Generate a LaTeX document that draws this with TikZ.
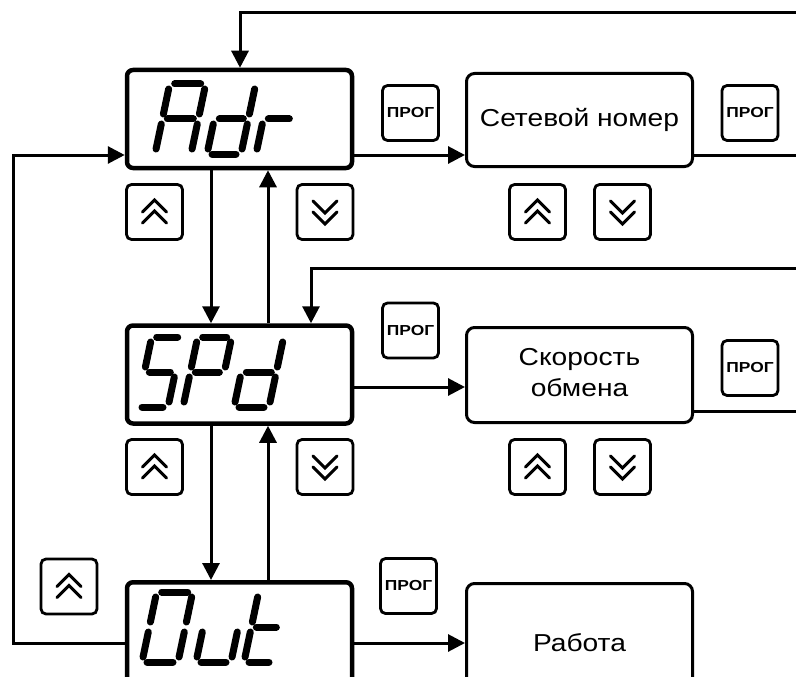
\documentclass[tikz,border=0pt]{standalone}
\usepackage{graphicx}
\usepackage{fontspec}
\setmainfont{Liberation Sans}
\usetikzlibrary{arrows.meta,calc}

\tikzset{
 disp/.style={draw, line width=4.5pt, rounded corners=6pt, minimum width=225pt, minimum height=98pt, inner sep=0pt},
 tbox/.style={draw, line width=3pt, rounded corners=8pt, minimum width=226pt, inner sep=0pt, font=\fontsize{24.5}{31}\selectfont},
 btn/.style={draw, line width=2.8pt, rounded corners=5pt, minimum width=56pt, minimum height=55pt, inner sep=0pt},
 prog/.style={btn, font=\fontsize{14.5}{16}\bfseries\selectfont},
 conn/.style={line width=3pt, -{Triangle[length=17pt,width=17pt]}},
 wire/.style={line width=3pt},
 chev/.style={line width=3pt, line cap=round},
 seg/.style={line width=7pt, line cap=round},
 chevup/.pic={\draw[chev] (-12,0) -- (0,-12) -- (12,0); \draw[chev] (-12,11) -- (0,-1) -- (12,11);},
 chevdown/.pic={\draw[chev] (-12,-11) -- (0,1) -- (12,-11); \draw[chev] (-12,0) -- (0,12) -- (12,0);},
}

\def\ssH{70}
\newcommand\ssga{\draw[seg] (5,-\ssH) -- (\ssW-5,-\ssH);}
\newcommand\ssgb{\draw[seg] (\ssW,-\ssH+5) -- (\ssW,-\ssH/2-5);}
\newcommand\ssgc{\draw[seg] (\ssW,-\ssH/2+5) -- (\ssW,-5);}
\newcommand\ssgd{\draw[seg] (5,0) -- (\ssW-5,0);}
\newcommand\ssge{\draw[seg] (0,-\ssH/2+5) -- (0,-5);}
\newcommand\ssgf{\draw[seg] (0,-\ssH+5) -- (0,-\ssH/2-5);}
\newcommand\ssgg{\draw[seg] (5,-\ssH/2) -- (\ssW-5,-\ssH/2);}
\newcommand\ssdigit[4]{%
 \begin{scope}[shift={(#1,#2)}, xslant=0.21]
  \def\ssW{#3}%
  \foreach \s in {#4}{\csname ssg\s\endcsname}
 \end{scope}}

\begin{document}
\begin{tikzpicture}[x=1pt,y=-1pt]
\useasboundingbox (0,0) rectangle (796,677);
\fill[white] (0,0) rectangle (796,677);
\clip (0,0) rectangle (796,677);

% displays
\node[disp] (adr) at (239.5,119) {};
\node[disp] (spd) at (239.5,374.5) {};
\node[disp, minimum height=121.5pt] (out) at (239.5,643) {};

% text boxes
\node[tbox, minimum height=93pt] (net) at (579.5,120) {\scalebox{1.15}[1]{Сетевой номер}};
\node[tbox, minimum height=95pt] (speed) at (579.5,375) {\scalebox{1.15}[1]{\begin{tabular}{@{}c@{}}Скорость\\обмена\end{tabular}}};
\node[tbox, minimum height=119pt] (work) at (579.5,643) {\scalebox{1.15}[1]{Работа}};

% PROG buttons
\node[prog] (p1) at (410.5,113) {\scalebox{1.2}[1]{ПРОГ}};
\node[prog] (p2) at (750,113) {\scalebox{1.2}[1]{ПРОГ}};
\node[prog] (p3) at (410.5,330.5) {\scalebox{1.2}[1]{ПРОГ}};
\node[prog] (p4) at (750,368) {\scalebox{1.2}[1]{ПРОГ}};
\node[prog] (p5) at (408.5,586) {\scalebox{1.2}[1]{ПРОГ}};

% arrow buttons
\node[btn] (u1) at (154.5,212) {}; \pic at (u1.center) {chevup};
\node[btn] (d1) at (325,212) {};   \pic at (d1.center) {chevdown};
\node[btn] (u2) at (537.5,212) {}; \pic at (u2.center) {chevup};
\node[btn] (d2) at (622.5,212) {}; \pic at (d2.center) {chevdown};
\node[btn] (u3) at (154.5,467) {}; \pic at (u3.center) {chevup};
\node[btn] (d3) at (325,467) {};   \pic at (d3.center) {chevdown};
\node[btn] (u4) at (537.5,467) {}; \pic at (u4.center) {chevup};
\node[btn] (d4) at (622.5,467) {}; \pic at (d4.center) {chevdown};
\node[btn] (u5) at (69,586.5) {};  \pic at (u5.center) {chevup};

% connectors
\coordinate (tR) at (796,13);
\coordinate (tC) at (240,13);
\draw[conn] (tR) -- (tC) -- (tC |- adr.north);

\draw[conn] ([yshift=-36pt]adr.east) -- ([yshift=-36pt]adr.east -| net.west);
\coordinate (nR) at (796,155);
\draw[wire] (nR -| net.east) -- (nR);

\coordinate (lB) at (13,643);
\coordinate (lT) at (13,155);
\draw[conn] (out.west) -- (lB) -- (lT) -- (lT -| adr.west);

\draw[conn] ([xshift=-28.5pt]adr.south) -- ([xshift=-28.5pt]spd.north);
\draw[conn] ([xshift=28.5pt]spd.north) -- ([xshift=28.5pt]adr.south);
\draw[conn] ([xshift=-28.5pt]spd.south) -- ([xshift=-28.5pt]out.north);
\draw[conn] ([xshift=28.5pt]out.north) -- ([xshift=28.5pt]spd.south);

\coordinate (sR) at (796,268);
\coordinate (sC) at (311,268);
\draw[conn] (sR) -- (sC) -- (sC |- spd.north);
\draw[conn] ([yshift=-12.5pt]spd.east) -- ([yshift=-12.5pt]spd.east -| speed.west);
\coordinate (sB) at (796,411);
\draw[wire] (sB -| speed.east) -- (sB);

\draw[conn] (out.east) -- (work.west);

% seven-segment texts
\ssdigit{155}{154}{36}{a,b,c,e,f,g}
\ssdigit{207}{154}{34}{b,c,d,e,g}
\ssdigit{256}{154}{31}{e,g}
\ssdigit{137}{407}{31}{a,f,g,c,d}
\ssdigit{183}{407}{34}{a,b,e,f,g}
\ssdigit{234}{407}{35}{b,c,d,e,g}
\ssdigit{142}{662}{36}{a,b,c,d,e,f}
\ssdigit{196}{662}{35}{c,d,e}
\ssdigit{244}{662}{30}{d,e,f,g}
\end{tikzpicture}
\end{document}
